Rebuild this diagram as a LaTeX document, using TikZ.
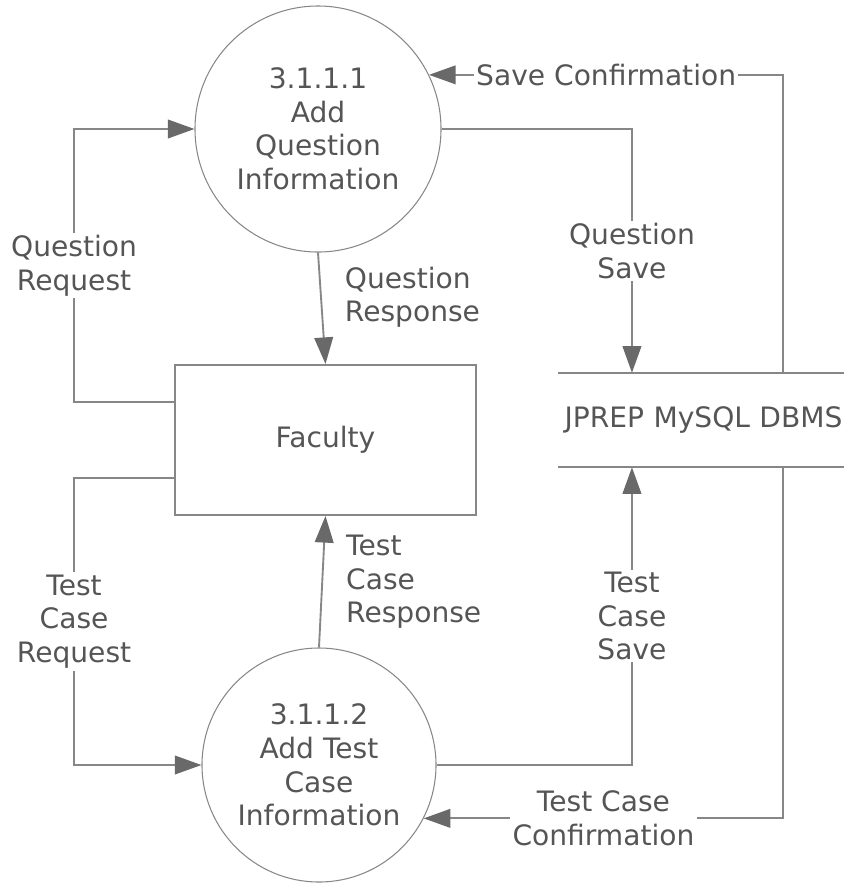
\documentclass[tikz,border=0pt]{standalone}
\usepackage{fontspec}
\setmainfont{DejaVu Sans}
\usepackage{tikz}
\usetikzlibrary{arrows.meta,calc}
\definecolor{linegray}{RGB}{135,135,135}
\definecolor{tipgray}{RGB}{105,105,105}
\definecolor{textgray}{RGB}{85,85,85}

\begin{document}
\begin{tikzpicture}[
        x=0.03cm, y=-0.03cm,
        font=\fontsize{24}{28.6}\selectfont,
        process/.style={circle, draw=linegray, line width=0.9pt, text=textgray, align=center, inner sep=0pt},
        entity/.style={rectangle, draw=linegray, line width=1.6pt, text=textgray, minimum width=9.03cm, minimum height=4.5cm},
        store/.style={rectangle, text=textgray, minimum width=8.58cm, minimum height=2.82cm, inner xsep=0.2cm, text width=8.18cm, align=left},
        flow/.style={draw=linegray, line width=1.6pt, -{Triangle[length=0.8cm, width=0.56cm, color=tipgray]}},
        lbl/.style={fill=white, text=textgray, align=center, inner sep=2pt},
        sidelbl/.style={text=textgray, align=left, anchor=west, inner sep=2pt}
    ]
    \useasboundingbox (0,0) rectangle (844,883);

    % ==========================================
    % 1. Processes, entity and data store
    % ==========================================
    \node[process, minimum size=7.38cm] (p1) at (318,129) {3.1.1.1\\Add\\Question\\Information};
    \node[process, minimum size=7.02cm] (p2) at (319,765) {3.1.1.2\\Add Test\\Case\\Information};
    \node[entity] (fac) at (325.5,440) {Faculty};
    \node[store] (dbms) at (701,420) {\mbox{JPREP MySQL DBMS}};
    \draw[linegray, line width=1.6pt] (dbms.north west) -- (dbms.north east);
    \draw[linegray, line width=1.6pt] (dbms.south west) -- (dbms.south east);

    % ==========================================
    % 2. Faculty <-> processes
    % ==========================================
    \path[flow] ($(fac.north west)!0.25!(fac.south west)$) -- ++(-100,0)
        |- node[lbl, pos=0.25] {Question\\Request} (p1.west);
    \path[flow] ($(fac.north west)!0.75!(fac.south west)$) -- ++(-100,0)
        |- node[lbl, pos=0.25] {Test\\Case\\Request} (p2.west);
    \path[flow] (p1.south) -- node[sidelbl, pos=0.4, xshift=0.62cm] {Question\\Response} (fac.north);
    \path[flow] (p2.north) -- node[sidelbl, pos=0.5, xshift=0.62cm] {Test\\Case\\Response} (fac.south);

    % ==========================================
    % 3. Processes <-> data store
    % ==========================================
    \path[flow] (p1.east) -| node[lbl, pos=0.75] {Question\\Save}
        ($(dbms.north west)!0.259!(dbms.north east)$);
    \path[flow] ($(dbms.north west)!0.787!(dbms.north east)$) |- node[lbl, pos=0.75] {Save Confirmation} (p1.26);
    \path[flow] (p2.east) -| node[lbl, pos=0.75] {Test\\Case\\Save}
        ($(dbms.south west)!0.259!(dbms.south east)$);
    \path[flow] ($(dbms.south west)!0.787!(dbms.south east)$) |- node[lbl, pos=0.75] {Test Case\\Confirmation} (p2.-27);

\end{tikzpicture}
\end{document}
